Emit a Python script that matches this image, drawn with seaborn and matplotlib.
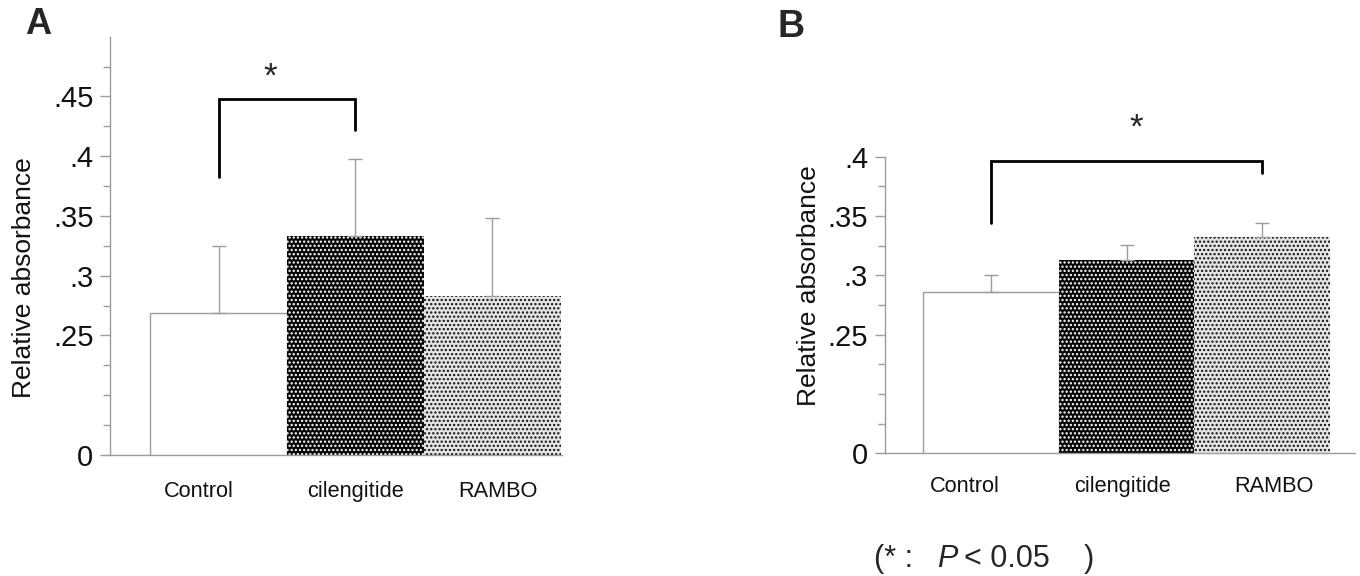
import numpy as np
import pandas as pd
import matplotlib
matplotlib.use("Agg")
import matplotlib.pyplot as plt
from matplotlib.transforms import ScaledTranslation
import seaborn as sns

# ---------------- data ----------------
categories = ["Control", "cilengitide", "RAMBO"]

a_means = [0.269, 0.333, 0.283]
a_errs = [0.056, 0.065, 0.065]

b_means = [0.286, 0.313, 0.332]
b_errs = [0.014, 0.013, 0.012]

ytick_vals_a = [0.15, 0.25, 0.30, 0.35, 0.40, 0.45]
ytick_labels_a = ["0", ".25", ".3", ".35", ".4", ".45"]
ytick_vals_b = [0.15, 0.25, 0.30, 0.35, 0.40]
ytick_labels_b = ["0", ".25", ".3", ".35", ".4"]
minor_a = [0.175, 0.2, 0.225, 0.275, 0.325, 0.375, 0.425, 0.475]
minor_b = [0.175, 0.2, 0.225, 0.275, 0.325, 0.375]

# ---------------- style ----------------
sns.set_style("ticks")
plt.rcParams["font.family"] = ["Liberation Sans", "DejaVu Sans"]
plt.rcParams["hatch.linewidth"] = 1.1

GRAY = "#9c9c9c"

fig = plt.figure(figsize=(13.6, 5.76), dpi=100)
axA = fig.add_axes([0.0810, 0.2101, 0.3322, 0.7262])
axB = fig.add_axes([0.6505, 0.2130, 0.3458, 0.5149])


def draw_panel(ax, means, errs, ylim, yvals, ylabels, minors, xlim, label_pad, label_dx):
    df = pd.DataFrame({"group": categories, "value": means})
    sns.barplot(data=df, x="group", y="value", hue="group",
                palette=["white", "#0a0a0a", "#e2e2e2"], width=1.0,
                legend=False, ax=ax, err_kws={"linewidth": 0})
    bars = [c.patches[0] for c in ax.containers]
    # Control: white with gray outline
    bars[0].set_facecolor("white")
    bars[0].set_edgecolor(GRAY)
    bars[0].set_linewidth(1.0)
    # cilengitide: black with white dots
    bars[1].set_facecolor("#050505")
    bars[1].set_edgecolor("white")
    bars[1].set_linewidth(0)
    bars[1].set_hatch("....")
    # RAMBO: light with dark dots
    bars[2].set_facecolor("#e4e4e4")
    bars[2].set_edgecolor("#111111")
    bars[2].set_linewidth(0)
    bars[2].set_hatch("....")

    xs = np.arange(len(categories))
    ax.errorbar(xs, means, yerr=[np.zeros(len(errs)), errs], fmt="none",
                ecolor=GRAY, elinewidth=1.0, capsize=5, capthick=1.0, zorder=1)

    ax.set_ylim(*ylim)
    ax.set_xlim(*xlim)
    ax.set_yticks(yvals)
    ax.set_yticklabels(ylabels)
    ax.set_yticks(minors, minor=True)
    ax.tick_params(axis="y", which="major", direction="out", length=7, width=1,
                   color=GRAY, labelsize=21, pad=5, labelcolor="#111111")
    ax.tick_params(axis="y", which="minor", direction="out", length=4.8, width=1,
                   color=GRAY)
    ax.tick_params(axis="x", length=0, labelsize=15.7, pad=label_pad,
                   labelcolor="#111111")
    for lab, dx in zip(ax.get_xticklabels(), label_dx):
        lab.set_transform(lab.get_transform() +
                          ScaledTranslation(dx / 100.0, 0, fig.dpi_scale_trans))
    for side in ["top", "right"]:
        ax.spines[side].set_visible(False)
    for side in ["left", "bottom"]:
        ax.spines[side].set_color(GRAY)
        ax.spines[side].set_linewidth(1.0)
    ax.set_xlabel("")
    ax.set_ylabel("Relative absorbance", fontsize=19, color="#111111")


draw_panel(axA, a_means, a_errs, (0.15, 0.50), ytick_vals_a, ytick_labels_a,
           minor_a, (-0.792, 2.509), 19, [-20, 0, 6])
draw_panel(axB, b_means, b_errs, (0.15, 0.40), ytick_vals_b, ytick_labels_b,
           minor_b, (-0.785, 2.686), 16, [-26, -4, 12])

axA.yaxis.set_label_coords(-0.164, 0.423)
axB.yaxis.set_label_coords(-0.136, 0.564)

# significance brackets
axA.plot([0, 0, 1, 1], [0.383, 0.448, 0.448, 0.422], color="black", lw=2.0,
         clip_on=False, solid_joinstyle="miter")
axA.text(0.38, 0.466, "*", ha="center", va="center", fontsize=25, clip_on=False)
axB.plot([0, 0, 2, 2], [0.344, 0.396, 0.396, 0.386], color="black", lw=2.0,
         clip_on=False, solid_joinstyle="miter")
axB.text(1.07, 0.424, "*", ha="center", va="center", fontsize=25, clip_on=False)

# panel letters
fig.text(25 / 1360, 1 - 34 / 576, "A", fontsize=26, fontweight="bold",
         ha="left", va="baseline")
fig.text(777 / 1360, 1 - 37 / 576, "B", fontsize=27, fontweight="bold",
         ha="left", va="baseline")

# footnote
yb = 1 - 567 / 576
fig.text(874 / 1360, yb, "(* :", fontsize=22, ha="left", va="baseline")
fig.text(937 / 1360, yb, "P", fontsize=22, style="italic", ha="left", va="baseline")
fig.text(964 / 1360, yb, "< 0.05", fontsize=22, ha="left", va="baseline")
fig.text(1084 / 1360, yb, ")", fontsize=22, ha="left", va="baseline")

fig.savefig("out.png", dpi=100)
